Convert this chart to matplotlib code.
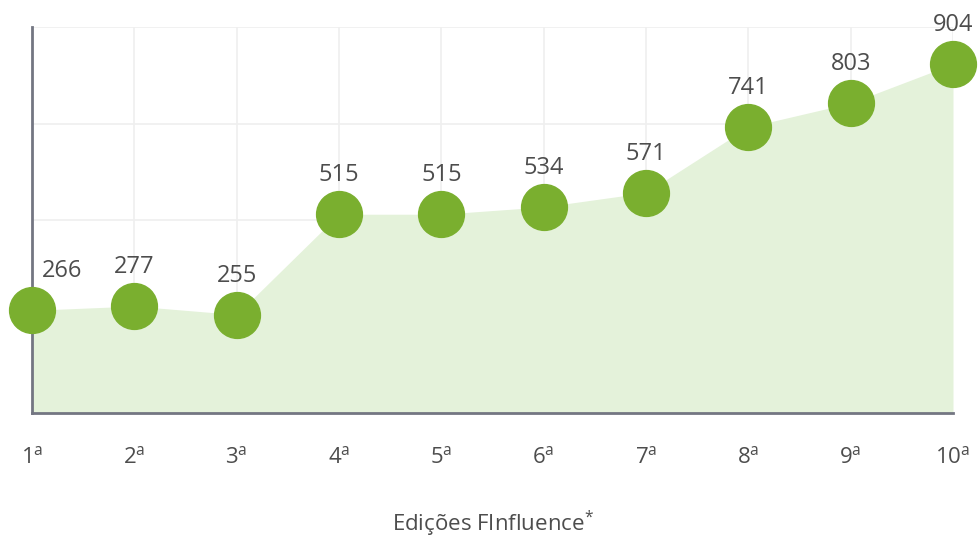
import matplotlib.pyplot as plt

plt.rcParams['font.family'] = ['Open Sans', 'DejaVu Sans']
plt.rcParams['mathtext.fontset'] = 'custom'
plt.rcParams['mathtext.rm'] = 'Open Sans'

edicoes = ['1', '2', '3', '4', '5', '6', '7', '8', '9', '10']
valores = [266, 277, 255, 515, 515, 534, 571, 741, 803, 904]

x = list(range(len(valores)))
txt = '#4d4d4d'

fig = plt.figure(figsize=(9.79, 5.41), dpi=100)
ax = fig.add_axes([32/979, 128/541, 921/979, 386/541])

ax.fill_between(x, valores, 0, color='#e4f2da', zorder=1, linewidth=0)
ax.plot(x, valores, 'o', color='#7aaf2f', markersize=33, clip_on=False, zorder=3)

for i, v in enumerate(valores):
    dx = 30 if i == 0 else 0
    ax.annotate(str(v), (i, v), xytext=(dx, 27), textcoords='offset pixels',
                ha='center', va='bottom', fontsize=17, color=txt)

ax.set_xlim(0, 9)
ax.set_ylim(0, 1000)
ax.set_xticks(x)
ax.set_xticklabels([e + r'$^{\mathrm{a}}$' for e in edicoes], fontsize=16, color=txt)
ax.set_yticks([0, 250, 500, 750, 1000])
ax.tick_params(axis='y', left=False, labelleft=False)
ax.tick_params(axis='x', length=0, pad=24)
ax.grid(True, color='#efefef', linewidth=1.2, zorder=0)
ax.set_axisbelow(True)

for s in ['top', 'right']:
    ax.spines[s].set_visible(False)
for s in ['left', 'bottom']:
    ax.spines[s].set_color('#737682')
    ax.spines[s].set_linewidth(2)

ax.set_xlabel(r'Edições FInfluence$^{*}$', fontsize=16, color=txt, labelpad=29)

plt.savefig('out.png', dpi=100)
